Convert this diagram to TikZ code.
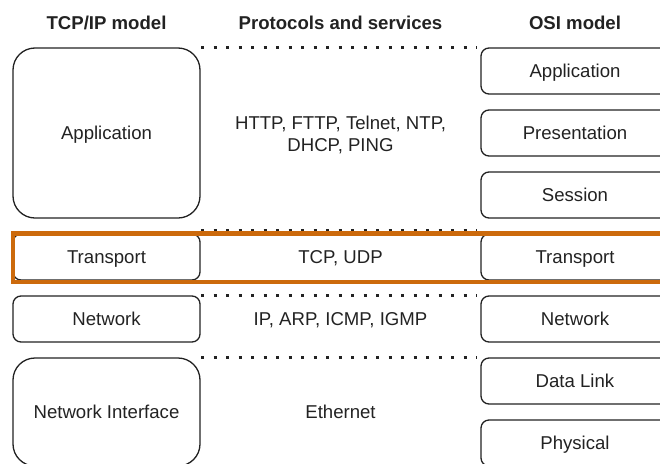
\documentclass[tikz,border=0pt]{standalone}
\usepackage{fontspec}
\setmainfont{Liberation Sans}
\definecolor{linegray}{HTML}{222222}
\definecolor{hiorange}{HTML}{CC6A0C}
\begin{document}
\begin{tikzpicture}[x=1pt,y=-1pt,
  every node/.style={font=\fontsize{18.6}{22}\selectfont, text=linegray, inner sep=0pt, text depth=0pt},
  layer/.style={draw=linegray, line width=1.3pt, rounded corners=8pt,
                minimum width=187pt, minimum height=46pt},
  biglayer/.style={layer, rounded corners=22pt},
  header/.style={font=\fontsize{18.6}{22}\selectfont\bfseries},
  proto/.style={align=center},
  rowdots/.style={draw=linegray, line width=2.9pt, dash pattern=on 2.9pt off 9.6pt},
  highlight/.style={draw=hiorange, line width=4.3pt}]
\useasboundingbox (0,0) rectangle (660,463);
\clip (0,0) rectangle (660,463);

% column headers
\node[header] (hTcp) at (106.5,23) {TCP/IP model};
\node[header] (hProto) at (340.5,23) {Protocols and services};
\node[header] (hOsi) at (575,23) {OSI model};

% TCP/IP layers
\node[biglayer, minimum height=170pt] (tApp) at (106.5,133) {Application};
\node[layer] (tTr) at (106.5,257) {Transport};
\node[layer] (tNet) at (106.5,319) {Network};
\node[biglayer, minimum height=108pt] (tNi) at (106.5,412) {Network Interface};

% OSI layers
\node[layer, minimum width=188pt] (oApp) at (575,71) {Application};
\node[layer, minimum width=188pt] (oPres) at (575,133) {Presentation};
\node[layer, minimum width=188pt] (oSes) at (575,195) {Session};
\node[layer, minimum width=188pt] (oTr) at (575,257) {Transport};
\node[layer, minimum width=188pt] (oNet) at (575,319) {Network};
\node[layer, minimum width=188pt] (oDl) at (575,381) {Data Link};
\node[layer, minimum width=188pt] (oPhy) at (575,443) {Physical};

% protocols
\node[proto] (pApp) at (340.5,134) {HTTP, FTTP, Telnet, NTP,\\DHCP, PING};
\node[proto] (pTr) at (340.5,257) {TCP, UDP};
\node[proto] (pNet) at (340.5,319) {IP, ARP, ICMP, IGMP};
\node[proto] (pNi) at (340.5,412) {Ethernet};

% dotted separators between the columns
\draw[rowdots] ([xshift=0.5pt]tApp.north east) -- ([xshift=-3pt]oApp.north west);
\draw[rowdots] ([xshift=0.5pt,yshift=2.5pt]tTr.north east) -- ([xshift=-3pt,yshift=2.5pt]oTr.north west);
\draw[rowdots] ([xshift=0.5pt]tNet.north east) -- ([xshift=-3pt]oNet.north west);
\draw[rowdots] ([xshift=0.5pt]tNi.north east) -- ([xshift=-3pt]oDl.north west);

% highlighted transport row
\draw[highlight] ([xshift=0.3pt]tTr.north west) rectangle ([xshift=10pt,yshift=-1pt]oTr.south east);
\end{tikzpicture}
\end{document}
